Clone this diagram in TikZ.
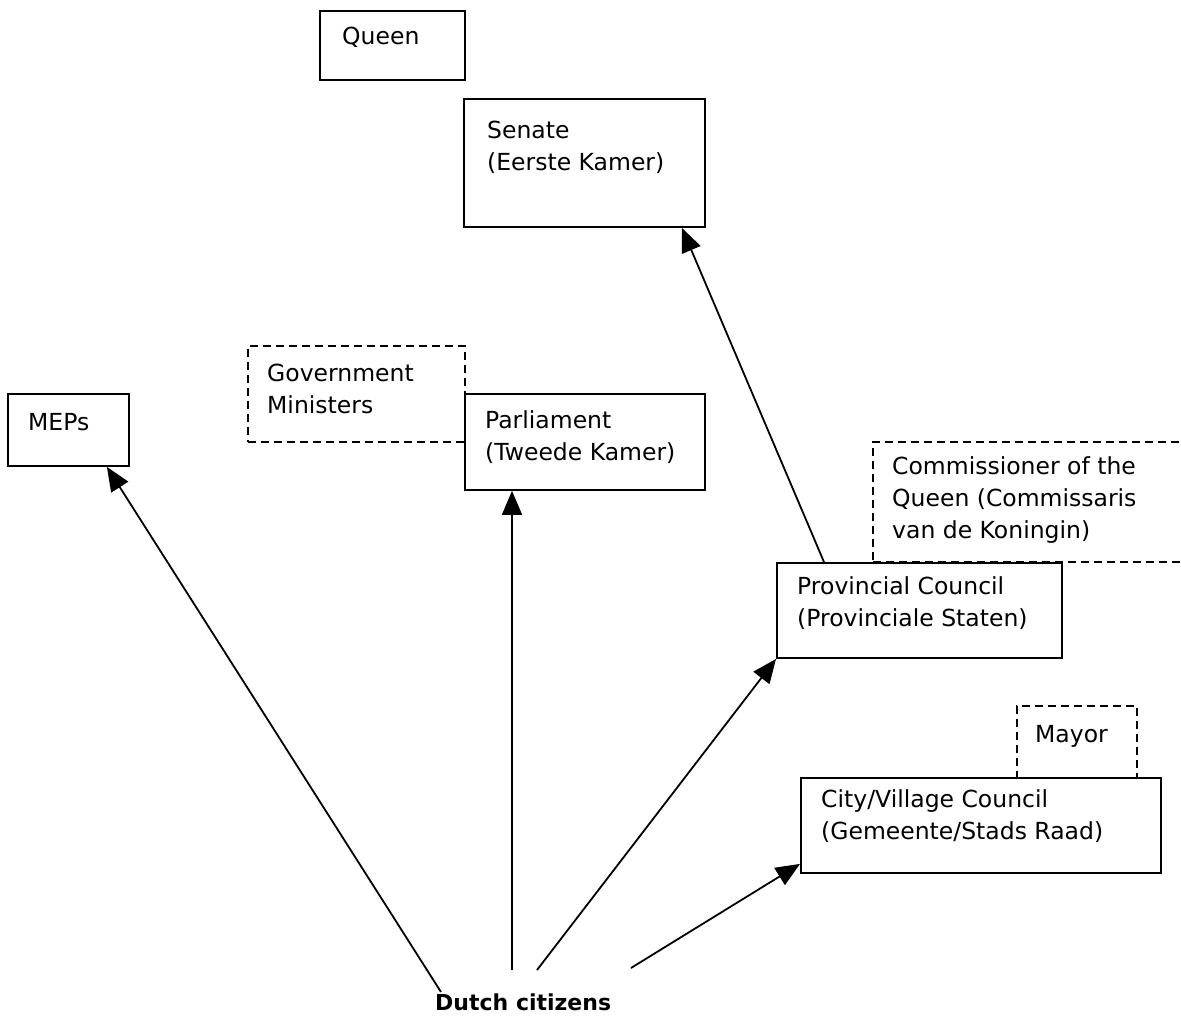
\documentclass[tikz,border=0pt]{standalone}
\usepackage{fontspec}
\setmainfont{DejaVu Sans}
\usepackage{tikz}
\usetikzlibrary{calc, positioning, arrows.meta}

\begin{document}
\begin{tikzpicture}[
  x=1pt, y=-1pt,
  font=\fontsize{23.5}{32}\selectfont,
  box/.style={draw, line width=1.9pt, anchor=north west, inner sep=0},
  dbox/.style={box, dash pattern=on 8pt off 5pt, line width=1.7pt},
  txt/.style={inner sep=0, align=left, anchor=base west},
  arr/.style={-{Triangle[length=24pt, width=20pt]}, line width=1.8pt}
]
\useasboundingbox (0,0) rectangle (1181,1031);
\clip (0,0) rectangle (1181,1031);

%% ——— dashed boxes (appointed) ———
\node[dbox, minimum width=217, minimum height=96] (minist) at (247,345) {};
\node[dbox, minimum width=340, minimum height=120] (commis) at (872,441) {};
\node[dbox, minimum width=120, minimum height=72] (mayor) at (1016,705) {};

%% ——— solid boxes (elected) ———
\node[box, minimum width=145, minimum height=69] (queen) at (319,10) {};
\node[box, minimum width=241, minimum height=128] (senate) at (463,98) {};
\node[box, minimum width=121, minimum height=72] (meps) at (7,393) {};
\node[box, minimum width=240, minimum height=96] (parl) at (464,393) {};
\node[box, minimum width=285, minimum height=95] (prov) at (776,562) {};
\node[box, minimum width=360, minimum height=95] (city) at (800,777) {};

%% ——— texts (placed at the baseline of their last line) ———
\node[txt] (queentxt) at (342,44) {Queen};
\node[txt] (senatetxt) at (487,170) {Senate\\(Eerste Kamer)};
\node[txt] (mepstxt) at (28,430) {MEPs};
\node[txt] (ministtxt) at (267,413) {Government\\Ministers};
\node[txt] (parltxt) at (485,460) {Parliament\\(Tweede Kamer)};
\node[txt] (commistxt) at (892,538) {Commissioner of the\\Queen (Commissaris\\van de Koningin)};
\node[txt] (provtxt) at (797,626) {Provincial Council\\(Provinciale Staten)};
\node[txt] (mayortxt) at (1035,742) {Mayor};
\node[txt] (citytxt) at (821,839) {City/Village Council\\(Gemeente/Stads Raad)};
\node[txt, font=\fontsize{22}{30}\selectfont\bfseries] (citizens) at (435,1010) {Dutch citizens};

%% ——— start points near the citizens ———
\coordinate (c1) at (441,992);
\coordinate (c2) at (512,970);
\coordinate (c3) at (537,970);
\coordinate (c4) at (631,968);

%% Citizens -> councils
\draw[arr] (c1) -- ([xshift=-23]meps.south east);
\draw[arr] (c2) -- ([xshift=48]parl.south west);
\draw[arr] (c3) -- (prov.south west);
\draw[arr] (c4) -- ([yshift=10]city.south west);

%% Provincial -> Senate
\draw[arr] ([xshift=48]prov.north west) -- ([xshift=-24]senate.south east);

\end{tikzpicture}
\end{document}
